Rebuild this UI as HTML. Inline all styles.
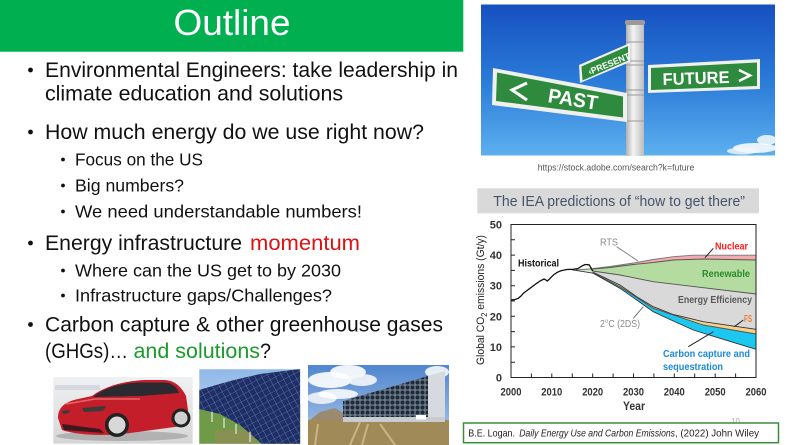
<!DOCTYPE html>
<html><head><meta charset="utf-8"><style>
html,body{margin:0;padding:0;background:#fff;overflow:hidden}
svg{display:block}
text{font-family:"Liberation Sans",sans-serif}
</style></head><body>
<svg width="798" height="445" viewBox="0 0 798 445" xmlns="http://www.w3.org/2000/svg">
<defs>
<linearGradient id="sky" x1="0" y1="0" x2="0" y2="1"><stop offset="0" stop-color="#1650c0"/><stop offset="0.5" stop-color="#2a7ad8"/><stop offset="1" stop-color="#5cb0ee"/></linearGradient>
<linearGradient id="pole" x1="0" y1="0" x2="1" y2="0"><stop offset="0" stop-color="#b0b0b0"/><stop offset="0.4" stop-color="#f4f4f4"/><stop offset="1" stop-color="#bcbcbc"/></linearGradient>
<linearGradient id="carbg" x1="0" y1="0" x2="0" y2="1"><stop offset="0" stop-color="#f0f1f3"/><stop offset="1" stop-color="#d6d6d6"/></linearGradient>
<linearGradient id="solsky" x1="0" y1="0" x2="0" y2="1"><stop offset="0" stop-color="#8fb8e8"/><stop offset="1" stop-color="#cfe0f0"/></linearGradient>
<linearGradient id="dacsky" x1="0" y1="0" x2="0" y2="1"><stop offset="0" stop-color="#4f86d0"/><stop offset="1" stop-color="#b4cae6"/></linearGradient>
<pattern id="grid" width="6" height="6" patternUnits="userSpaceOnUse" patternTransform="rotate(-28)"><rect width="6" height="6" fill="#1e2e66"/><path d="M0 0H6M0 0V6" stroke="#8a9ac0" stroke-width="0.6"/></pattern>
<pattern id="fans" width="5" height="5" patternUnits="userSpaceOnUse"><rect width="5" height="5" fill="#6a7888"/><circle cx="2.5" cy="2.5" r="2" fill="#1e2a38"/></pattern>
<clipPath id="csol"><rect x="199.3" y="369.3" width="101" height="74.5"/></clipPath>
<clipPath id="cdac"><rect x="308" y="365" width="141" height="80"/></clipPath>
</defs>

<!-- Title bar -->
<rect x="0" y="0" width="463.3" height="51.7" fill="#00b050"/>
<text x="232" y="35" font-size="36" fill="#fff" text-anchor="middle" textLength="117" lengthAdjust="spacingAndGlyphs">Outline</text>

<!-- Bullets -->
<g fill="#111">
<circle cx="30.5" cy="70" r="2.4"/>
<text x="45" y="77" font-size="21" textLength="413" lengthAdjust="spacingAndGlyphs">Environmental Engineers: take leadership in</text>
<text x="45" y="100.5" font-size="21" textLength="298" lengthAdjust="spacingAndGlyphs">climate education and solutions</text>
<circle cx="30.5" cy="132" r="2.4"/>
<text x="45" y="139" font-size="21" textLength="379" lengthAdjust="spacingAndGlyphs">How much energy do we use right now?</text>
<circle cx="63" cy="159.5" r="1.9"/>
<text x="75" y="165.5" font-size="17.5" textLength="128" lengthAdjust="spacingAndGlyphs">Focus on the US</text>
<circle cx="63" cy="185.5" r="1.9"/>
<text x="75" y="191.5" font-size="17.5" textLength="109" lengthAdjust="spacingAndGlyphs">Big numbers?</text>
<circle cx="63" cy="211.5" r="1.9"/>
<text x="75" y="217.5" font-size="17.5" textLength="287" lengthAdjust="spacingAndGlyphs">We need understandable numbers!</text>
<circle cx="30.5" cy="243" r="2.4"/>
<text x="45" y="250" font-size="21" textLength="197" lengthAdjust="spacingAndGlyphs">Energy infrastructure</text>
<text x="250" y="250" font-size="21" fill="#e01010" textLength="110" lengthAdjust="spacingAndGlyphs">momentum</text>
<circle cx="63" cy="270.5" r="1.9"/>
<text x="75" y="276.5" font-size="17.5" textLength="266" lengthAdjust="spacingAndGlyphs">Where can the US get to by 2030</text>
<circle cx="63" cy="295.5" r="1.9"/>
<text x="75" y="301.5" font-size="17.5" textLength="257" lengthAdjust="spacingAndGlyphs">Infrastructure gaps/Challenges?</text>
<circle cx="30.5" cy="324.5" r="2.4"/>
<text x="45" y="331.5" font-size="21" textLength="398" lengthAdjust="spacingAndGlyphs">Carbon capture &amp; other greenhouse gases</text>
<text x="45" y="358" font-size="21" textLength="83" lengthAdjust="spacingAndGlyphs">(GHGs)…</text>
<text x="133.5" y="358" font-size="21" fill="#1a9a2a" textLength="126.5" lengthAdjust="spacingAndGlyphs">and solutions</text>
<text x="260" y="358" font-size="21" textLength="11" lengthAdjust="spacingAndGlyphs">?</text>
</g>

<!-- Car photo -->
<rect x="53.3" y="377" width="139.4" height="66.7" fill="url(#carbg)"/>
<rect x="55" y="385" width="45" height="5" fill="#c6cbd4" opacity="0.6"/>
<ellipse cx="122" cy="436" rx="66" ry="5" fill="#8a8a8a" opacity="0.5"/>
<path d="M58 418 C58 408 64 402 78 399 L92 396 C104 387 122 381 145 380 L165 380 C176 381 182 388 186 396 L188 410 C188 418 186 424 182 426 L130 433 C110 436 80 436 62 430 Z" fill="#c41e2a"/>
<path d="M93 397 C104 388 120 383 140 382.5 L165 382.5 C172 383 177 387 179 393 L140 396 Z" fill="#2a2a30"/>
<path d="M66 404 L95 399 L140 399" fill="none" stroke="#e8646a" stroke-width="1.5"/>
<path d="M62 424 L100 429 L104 433 L64 430 Z" fill="#3a1a1e"/>
<path d="M82 408 L106 406 L103 411 L84 412 Z" fill="#3a3a3a"/>
<path d="M62 411 L70 410 L69 413 L63 414 Z" fill="#3a3a3a"/>
<circle cx="117" cy="425" r="12" fill="#222"/><circle cx="117" cy="425" r="8.5" fill="#d8d8d8"/>
<circle cx="181" cy="418" r="9.5" fill="#222"/><circle cx="181" cy="418" r="6.5" fill="#d0d0d0"/>

<!-- Solar photo -->
<g clip-path="url(#csol)">
<rect x="199" y="369" width="102" height="76" fill="url(#solsky)"/>
<rect x="199" y="404" width="102" height="41" fill="#6f9a48"/>
<rect x="215" y="430" width="40" height="15" fill="#9a8a5a" opacity="0.6"/>
<polygon points="199,390 230,381 260,374 300,369 300,444 262,444 240,425 220,414 199,409" fill="url(#grid)"/>
<path d="M212 412v10M224 418v10M236 424v10M250 432v10" stroke="#e8e8e8" stroke-width="1.2"/>
</g>

<!-- DAC photo -->
<g clip-path="url(#cdac)">
<rect x="308" y="365" width="141" height="80" fill="url(#dacsky)"/>
<ellipse cx="330" cy="380" rx="22" ry="8" fill="#fff" opacity="0.9"/>
<ellipse cx="348" cy="372" rx="18" ry="7" fill="#fff" opacity="0.9"/>
<ellipse cx="362" cy="380" rx="15" ry="6" fill="#f4f6fa" opacity="0.9"/>
<ellipse cx="322" cy="398" rx="15" ry="6" fill="#eef2f8" opacity="0.9"/>
<ellipse cx="338" cy="394" rx="20" ry="5" fill="#fff" opacity="0.85"/>
<ellipse cx="437" cy="372" rx="12" ry="6" fill="#fff" opacity="0.85"/>
<polygon points="310,420 320,412 335,408 345,414 345,420" fill="#9a8a70"/>
<rect x="308" y="420" width="141" height="25" fill="#a08a58"/>
<path d="M315 445 L318 424 M350 445 L360 422 M395 445 L380 424 M362 445 L368 424" stroke="#c8b484" stroke-width="2" fill="none"/>
<polygon points="343,401 428,376 428,420 343,420" fill="url(#fans)"/>
<polygon points="428,376 445,371 445,420 428,420" fill="#d6dade"/>
<rect x="343" y="417" width="102" height="5" fill="#c8ccd0"/>
<rect x="416" y="415" width="10" height="4.5" fill="#fff"/>
</g>

<!-- Sign image -->
<rect x="481" y="4.5" width="294" height="151" fill="url(#sky)"/>
<ellipse cx="755" cy="148" rx="22" ry="5" fill="#fff" opacity="0.85"/>
<ellipse cx="767" cy="140" rx="10" ry="5" fill="#fff" opacity="0.8"/>
<ellipse cx="742" cy="151" rx="15" ry="3.5" fill="#f2f6fa" opacity="0.8"/>
<rect x="626" y="22" width="18" height="134" fill="url(#pole)"/>
<rect x="625" y="20" width="20" height="5" rx="2" fill="#9a9a9a"/>
<path d="M626 42h18M626 61h18M626 65h18M626 90h18M626 95h18M626 121h18" stroke="#9a9a9a" stroke-width="1"/>
<polygon points="493,68 627,93 627,122 492,105" fill="#f0f0f0"/>
<polygon points="497,72.5 623,96.5 623,117.5 496,101" fill="#2e8b3e"/>
<polyline points="527,83 512,90 527,100" fill="none" stroke="#fff" stroke-width="3"/>
<text x="573" y="106" font-size="20" font-weight="bold" fill="#fff" text-anchor="middle" transform="rotate(9 573 99)" textLength="50" lengthAdjust="spacingAndGlyphs">PAST</text>
<polygon points="648,65 760,59 760,89 648,93" fill="#f0f0f0"/>
<polygon points="651,68 757,62.5 757,86 651,90" fill="#2e8b3e"/>
<text x="696" y="84" font-size="17" font-weight="bold" fill="#fff" text-anchor="middle" transform="rotate(-2 696 77)" textLength="67" lengthAdjust="spacingAndGlyphs">FUTURE</text>
<polyline points="739,70 750,75.5 739,81" fill="none" stroke="#fff" stroke-width="2.5"/>
<polygon points="579,65 630,43 630,62 580,83" fill="#f0f0f0"/>
<polygon points="581.5,66.5 628,46 628,60.5 582.5,80.5" fill="#2e8b3e"/>
<text x="609" y="67" font-size="9" font-weight="bold" fill="#fff" text-anchor="middle" transform="rotate(-22 609 64)" textLength="44" lengthAdjust="spacingAndGlyphs">‹PRESENT</text>
<text x="537.7" y="170.5" font-size="9" fill="#555" textLength="156.6" lengthAdjust="spacingAndGlyphs">https://stock.adobe.com/search?k=future</text>

<!-- Chart title -->
<rect x="477.3" y="188.3" width="281.7" height="25" fill="#d9d9d9"/>
<text x="493.3" y="206" font-size="15" fill="#44546a" textLength="251.7" lengthAdjust="spacingAndGlyphs">The IEA predictions of “how to get there”</text>

<!-- Chart bands -->
<polygon points="576,270 592.7,268.6 610,266.5 633.5,263 653.3,259.5 673.3,256.7 693.3,255.2 756,255.2 756,260 703,259 673.3,260 653.3,262.5 633.5,264.5 610,267.5 592.7,269" fill="#f5aab0"/>
<polygon points="576,270 592.7,269 610,267.5 633.5,264.5 653.3,262.5 673.3,260 703,259 756,260 756,294 686.7,285.7 653.3,281.7 620,275 592.7,271" fill="#b4dca0"/>
<polygon points="576,270 592.7,271 620,275 653.3,281.7 686.7,285.7 756,294 756,329.3 703.3,321.7 673.3,314.5 653.3,306.7 636.7,296.7 620,285 592.7,272" fill="#d9d9d9"/>
<polygon points="592.7,272 620,285 636.7,296.7 653.3,306.7 673.3,314.5 703.3,321.7 756,329.3 756,334 703.3,325 653.3,308.3 620,286.7 592.7,272.5" fill="#f4d08a"/>
<polygon points="592.7,272.5 620,286.7 653.3,308.3 703.3,325 756,334 756,349.3 720,338.3 693.3,330 673.3,321 653.3,311.7 636.7,300 620,288.3 592.7,273" fill="#1cc8f0"/>
<g fill="none" stroke-width="0.9">
<polyline points="576,270 592.7,268.6 610,266.5 633.5,263 653.3,259.5 673.3,256.7 693.3,255.2 756,255.2" stroke="#777"/>
<polyline points="592.7,269 610,267.5 633.5,264.5 653.3,262.5 673.3,260 703,259 756,260" stroke="#555"/>
<polyline points="592.7,271 620,275 653.3,281.7 686.7,285.7 756,294" stroke="#555"/>
<polyline points="592.7,272 620,285 636.7,296.7 653.3,306.7 673.3,314.5 703.3,321.7 756,329.3" stroke="#333"/>
<polyline points="592.7,272.5 620,286.7 653.3,308.3 703.3,325 756,334" stroke="#555"/>
<polyline points="572,269.8 592.7,273 620,288.3 636.7,300 653.3,311.7 673.3,321 693.3,330 720,338.3 756,349.3" stroke="#333"/>
</g>
<polyline points="511,300 515,299.5 518.3,298.3 521,296 523.3,293.3 527,290.5 530,288.3 533,286 536.7,283.3 540,281 544,279 546,280 547.3,281 549.5,279 551.7,276.7 554,274.5 557.3,272.3 561,270.8 566.7,269.5 573.3,269.3 578,268.5 582,266 585,264.5 589,264.8 590.5,267 592.7,271" fill="none" stroke="#111" stroke-width="1.3"/>

<!-- leader lines -->
<g stroke-width="1" fill="none">
<line x1="616.7" y1="246.7" x2="638" y2="261" stroke="#888"/>
<line x1="705" y1="257.7" x2="713.3" y2="248.3" stroke="#222"/>
<line x1="734.3" y1="326.7" x2="743.3" y2="320" stroke="#222"/>
<line x1="633.3" y1="318.3" x2="643.3" y2="306.7" stroke="#777"/>
<line x1="688.3" y1="346.7" x2="713.3" y2="331.7" stroke="#222"/>
</g>

<!-- axes frame -->
<rect x="511" y="224.5" width="245" height="153" fill="none" stroke="#222" stroke-width="1"/>
<g stroke="#222" stroke-width="1">
<path d="M511 362.2h4M511 346.9h4M511 331.6h4M511 316.3h4M511 301h4M511 285.7h4M511 270.4h4M511 255.1h4M511 239.8h4"/>
<path d="M531.4 377.5v-4M551.8 377.5v-4M572.3 377.5v-4M592.7 377.5v-4M613.1 377.5v-4M633.5 377.5v-4M653.9 377.5v-4M674.3 377.5v-4M694.7 377.5v-4M715.2 377.5v-4M735.6 377.5v-4"/>
</g>
<g font-size="11" fill="#333" font-weight="bold" text-anchor="end">
<text x="502" y="228.5">50</text>
<text x="502" y="259.1">40</text>
<text x="502" y="289.7">30</text>
<text x="502" y="320.3">20</text>
<text x="502" y="350.9">10</text>
<text x="502" y="381.5">0</text>
</g>
<g font-size="11" fill="#333" font-weight="bold" text-anchor="middle">
<text x="511" y="395.5" textLength="21" lengthAdjust="spacingAndGlyphs">2000</text>
<text x="551.8" y="395.5" textLength="21" lengthAdjust="spacingAndGlyphs">2010</text>
<text x="592.7" y="395.5" textLength="21" lengthAdjust="spacingAndGlyphs">2020</text>
<text x="633.5" y="395.5" textLength="21" lengthAdjust="spacingAndGlyphs">2030</text>
<text x="674.3" y="395.5" textLength="21" lengthAdjust="spacingAndGlyphs">2040</text>
<text x="715.2" y="395.5" textLength="21" lengthAdjust="spacingAndGlyphs">2050</text>
<text x="756" y="395.5" textLength="21" lengthAdjust="spacingAndGlyphs">2060</text>
<text x="634" y="410" font-size="12" textLength="22" lengthAdjust="spacingAndGlyphs">Year</text>
</g>
<text x="484" y="300" font-size="11" fill="#222" text-anchor="middle" transform="rotate(-90 484 300)" textLength="130" lengthAdjust="spacingAndGlyphs">Global CO<tspan font-size="8" dy="3">2</tspan><tspan dy="-3"> emissions (Gt/y)</tspan></text>

<!-- chart labels -->
<g font-size="10" font-weight="bold">
<text x="600" y="245.5" fill="#8a8a8a" font-weight="normal" textLength="18" lengthAdjust="spacingAndGlyphs">RTS</text>
<text x="715" y="249.5" fill="#ff1a1a" textLength="33" lengthAdjust="spacingAndGlyphs">Nuclear</text>
<text x="518" y="266.5" fill="#111" textLength="41" lengthAdjust="spacingAndGlyphs">Historical</text>
<text x="702" y="277" fill="#2a8a2a" textLength="48" lengthAdjust="spacingAndGlyphs">Renewable</text>
<text x="678" y="303" fill="#595959" textLength="74" lengthAdjust="spacingAndGlyphs">Energy Efficiency</text>
<text x="744" y="322" fill="#f07c30" textLength="8" lengthAdjust="spacingAndGlyphs">FS</text>
<text x="600" y="327" fill="#8a8a8a" font-weight="normal" textLength="40" lengthAdjust="spacingAndGlyphs">2°C (2DS)</text>
<text x="663" y="357" fill="#1a8ad8" textLength="87" lengthAdjust="spacingAndGlyphs">Carbon capture and</text>
<text x="663" y="370" fill="#1a8ad8" textLength="60" lengthAdjust="spacingAndGlyphs">sequestration</text>
</g>

<!-- citation -->
<text x="731" y="424" font-size="8" fill="#aaa">10</text>
<rect x="463.5" y="423" width="315" height="19.7" fill="#fff" stroke="#3c8c3c" stroke-width="1.5"/>
<text x="468.3" y="436.5" font-size="10.5" fill="#222" textLength="46.7" lengthAdjust="spacingAndGlyphs">B.E. Logan.</text>
<text x="519.3" y="436.5" font-size="10.5" fill="#222" font-style="italic" textLength="155.7" lengthAdjust="spacingAndGlyphs">Daily Energy Use and Carbon Emissions</text>
<text x="675" y="436.5" font-size="10.5" fill="#222" textLength="84" lengthAdjust="spacingAndGlyphs">, (2022) John Wiley</text>
</svg>
</body></html>
